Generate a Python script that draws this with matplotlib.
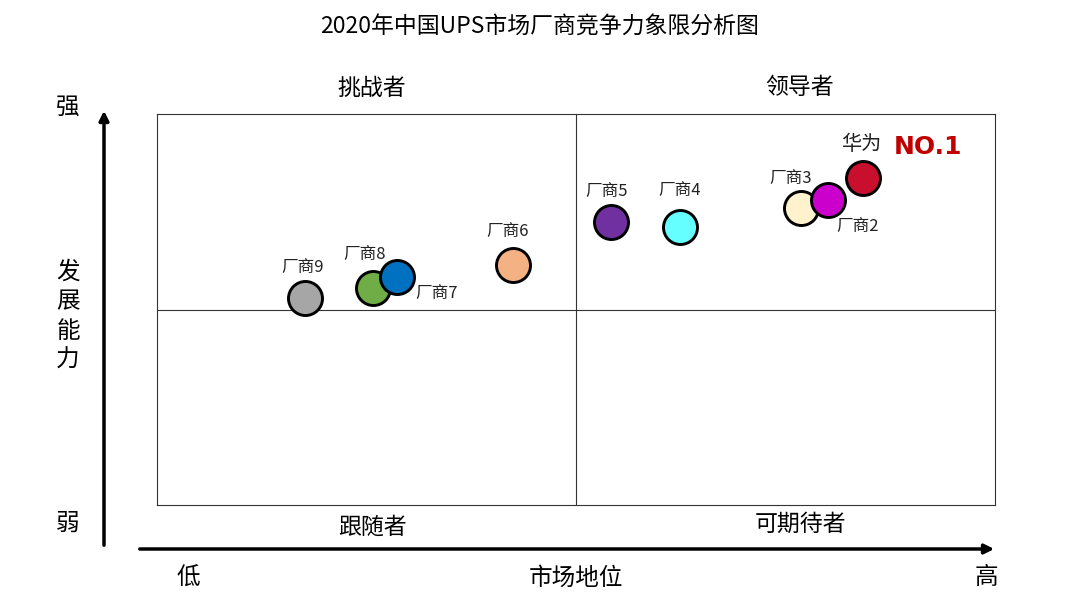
import matplotlib
matplotlib.use('Agg')
import matplotlib.pyplot as plt

plt.rcParams['font.family'] = ['Noto Sans CJK SC', 'DejaVu Sans']

# vendor positions: market position (x) and development ability (y), 0-10 scale
names = ['厂商9', '厂商8', '厂商7', '厂商6', '厂商5', '厂商4', '厂商3', '厂商2', '华为']
market = [1.77, 2.58, 2.86, 4.25, 5.42, 6.24, 7.68, 8.01, 8.42]
ability = [5.29, 5.55, 5.83, 6.14, 7.24, 7.11, 7.60, 7.80, 8.36]
colors = ['#A6A6A6', '#70AD47', '#0070C0', '#F4B183', '#7030A0',
          '#66FFFF', '#FFF2CC', '#CC00CC', '#C8102E']
# label offsets in points
offsets = [(-2, 22), (-6, 24), (29, -12), (-4, 24), (-3, 22),
           (0, 26), (-7, 21), (21, -19), (-1, 24)]
quadrants = ['挑战者', '领导者', '跟随者', '可期待者']

fig = plt.figure(figsize=(10.8, 6.08), dpi=100)
ax = fig.add_axes([157 / 1080, 1 - 505 / 608, 838 / 1080, 391 / 608])
ax.set_xlim(0, 10)
ax.set_ylim(0, 10)
ax.set_xticks([])
ax.set_yticks([])
for s in ax.spines.values():
    s.set_linewidth(0.8)
    s.set_color('#333333')
ax.axvline(5, color='#333333', lw=0.8)
ax.axhline(5, color='#333333', lw=0.8)

for i in range(len(names)):
    ax.scatter(market[i], ability[i], s=600, c=colors[i], edgecolors='black',
               linewidths=2.1, zorder=3 + i)
    fs = 14.5 if names[i] == '华为' else 12
    ax.annotate(names[i], (market[i], ability[i]), xytext=offsets[i],
                textcoords='offset points', ha='center', va='center',
                fontsize=fs, color='#222222')

fig.text(928 / 1080, 1 - 147 / 608, 'NO.1', fontsize=18, fontweight='bold',
         color='#C00000', ha='center', va='center', family=['DejaVu Sans'])

fig.text(0.5, 1 - 27 / 608, '2020年中国UPS市场厂商竞争力象限分析图', fontsize=16.5,
         ha='center', va='center')

qpos = [(372, 88), (800, 88), (372, 527), (800, 524)]
for q, (px, py) in zip(quadrants, qpos):
    fig.text(px / 1080, 1 - py / 608, q, fontsize=16.5, ha='center', va='center')

# axis arrows
fig.add_artist(matplotlib.patches.FancyArrowPatch(
    (104 / 1080, 1 - 548 / 608), (104 / 1080, 1 - 108 / 608),
    transform=fig.transFigure, arrowstyle='-|>', mutation_scale=14,
    lw=2.5, color='black'))
fig.add_artist(matplotlib.patches.FancyArrowPatch(
    (137 / 1080, 1 - 549 / 608), (997 / 1080, 1 - 549 / 608),
    transform=fig.transFigure, arrowstyle='-|>', mutation_scale=14,
    lw=2.5, color='black'))

fig.text(68 / 1080, 1 - 107 / 608, '强', fontsize=17, ha='center', va='center')
for k, ch in enumerate('发展能力'):
    fig.text(68 / 1080, 1 - (272 + 29.5 * k) / 608, ch, fontsize=17,
             ha='center', va='center')
fig.text(68 / 1080, 1 - 523 / 608, '弱', fontsize=17, ha='center', va='center')
fig.text(188 / 1080, 1 - 578 / 608, '低', fontsize=17, ha='center', va='center')
fig.text(576 / 1080, 1 - 578 / 608, '市场地位', fontsize=17, ha='center', va='center')
fig.text(986 / 1080, 1 - 578 / 608, '高', fontsize=17, ha='center', va='center')

fig.savefig('out.png', dpi=100)
